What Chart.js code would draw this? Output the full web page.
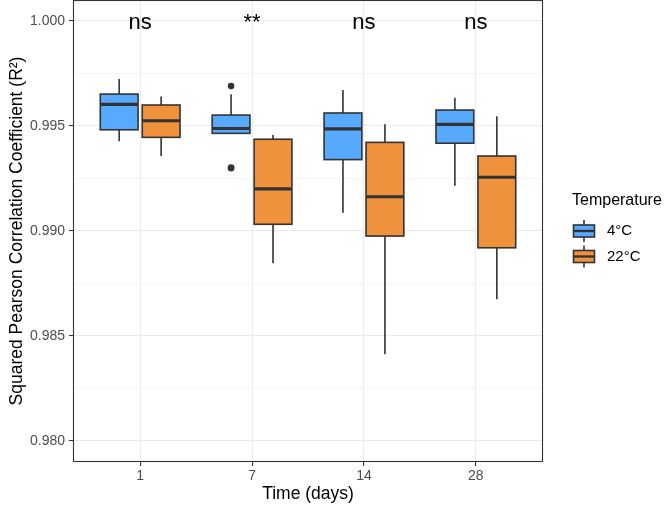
<!DOCTYPE html>
<html lang="en">
<head>
<meta charset="UTF-8" />
<title>R² by storage time and temperature</title>
<script src="https://cdn.jsdelivr.net/npm/chart.js"></script>
<style>
  body { margin: 0; background: #fff; }
  #wrap { width: 669px; height: 505px; }
</style>
</head>
<body>
<div id="wrap"><canvas id="chart" width="669" height="505"></canvas></div>
<script>
  // Categories and groups
  const days = ["1", "7", "14", "28"];
  const groups = ["4°C", "22°C"];
  const groupColors = ["#57AAFF", "#F0923C"];
  const signif = ["ns", "**", "ns", "ns"];
  const signifAt = 1.0;

  // Box stats, 4°C
  const coldLow    = [0.99427, 0.99465, 0.99087, 0.99216];
  const coldQ1     = [0.99482, 0.99465, 0.99340, 0.99418];
  const coldMedian = [0.99603, 0.99488, 0.99486, 0.99508];
  const coldQ3     = [0.99652, 0.99552, 0.99562, 0.99576];
  const coldHigh   = [0.99724, 0.99651, 0.99671, 0.99635];

  // Box stats, 22°C
  const warmLow    = [0.99357, 0.98846, 0.98413, 0.98675];
  const warmQ1     = [0.99446, 0.99032, 0.98976, 0.98920];
  const warmMedian = [0.99525, 0.99201, 0.99163, 0.99256];
  const warmQ3     = [0.99600, 0.99437, 0.99422, 0.99357];
  const warmHigh   = [0.99640, 0.99457, 0.99508, 0.99546];

  // Outliers (day, group index, value)
  const outlierDay   = ["7", "7", "7"];
  const outlierGroup = [0, 0, 0];
  const outlierValue = [0.99690, 0.99302, 0.99299];

  // Axis ticks
  const yMajorTicks = [0.980, 0.985, 0.990, 0.995, 1.000];
  const yMinorTicks = [0.9825, 0.9875, 0.9925, 0.9975];

  const stats = [
    { low: coldLow, q1: coldQ1, med: coldMedian, q3: coldQ3, high: coldHigh },
    { low: warmLow, q1: warmQ1, med: warmMedian, q3: warmQ3, high: warmHigh },
  ];

  const FONT = "'Liberation Sans', Arial, Helvetica, sans-serif";
  const INK = "#333333";
  const DODGE = 0.1875;
  const HALF_BOX = 0.16875;

  function groupX(dayIndex, g) {
    return dayIndex + 1 + (g === 0 ? -DODGE : DODGE);
  }

  function isMajor(v) {
    return yMajorTicks.some((t) => Math.abs(t - v) < 1e-7);
  }

  // draws boxes and whiskers through the chart scales
  const boxPlugin = {
    id: "boxes",
    beforeDatasetsDraw(chart) {
      const { ctx, scales: { x, y } } = chart;
      ctx.save();
      stats.forEach((s, g) => {
        days.forEach((d, i) => {
          const cx = x.getPixelForValue(groupX(i, g));
          const x0 = x.getPixelForValue(groupX(i, g) - HALF_BOX);
          const x1 = x.getPixelForValue(groupX(i, g) + HALF_BOX);
          const yQ1 = y.getPixelForValue(s.q1[i]);
          const yQ3 = y.getPixelForValue(s.q3[i]);
          const yMed = y.getPixelForValue(s.med[i]);
          const yLow = y.getPixelForValue(s.low[i]);
          const yHigh = y.getPixelForValue(s.high[i]);

          ctx.strokeStyle = INK;
          ctx.lineWidth = 1.6;
          ctx.beginPath();
          ctx.moveTo(cx, yHigh);
          ctx.lineTo(cx, yQ3);
          ctx.moveTo(cx, yQ1);
          ctx.lineTo(cx, yLow);
          ctx.stroke();

          ctx.fillStyle = groupColors[g];
          ctx.fillRect(x0, yQ3, x1 - x0, yQ1 - yQ3);
          ctx.strokeRect(x0, yQ3, x1 - x0, yQ1 - yQ3);

          ctx.lineWidth = 3.2;
          ctx.beginPath();
          ctx.moveTo(x0, yMed);
          ctx.lineTo(x1, yMed);
          ctx.stroke();
        });
      });
      ctx.restore();
    },
    afterDraw(chart) {
      const { ctx, chartArea: a, scales: { x, y } } = chart;
      ctx.save();

      // significance labels
      ctx.fillStyle = "#000";
      ctx.font = "22px " + FONT;
      ctx.textAlign = "center";
      ctx.textBaseline = "alphabetic";
      signif.forEach((t, i) => {
        ctx.fillText(t, x.getPixelForValue(i + 1), y.getPixelForValue(signifAt) + 8);
      });

      // panel border
      ctx.strokeStyle = INK;
      ctx.lineWidth = 1.1;
      ctx.strokeRect(a.left + 0.5, a.top + 0.5, a.right - a.left - 1, a.bottom - a.top - 1);

      // legend
      ctx.textAlign = "left";
      ctx.font = "16px " + FONT;
      ctx.fillText("Temperature", 572, 205);
      ctx.font = "15px " + FONT;
      groups.forEach((name, g) => {
        const cy = 231 + g * 25.5;
        const kx = 573.5, kw = 21;
        ctx.lineWidth = 1.6;
        ctx.beginPath();
        ctx.moveTo(kx + kw / 2, cy - 11);
        ctx.lineTo(kx + kw / 2, cy + 11);
        ctx.stroke();
        ctx.fillStyle = groupColors[g];
        ctx.fillRect(kx, cy - 6, kw, 12);
        ctx.strokeRect(kx, cy - 6, kw, 12);
        ctx.lineWidth = 2.4;
        ctx.beginPath();
        ctx.moveTo(kx, cy);
        ctx.lineTo(kx + kw, cy);
        ctx.stroke();
        ctx.fillStyle = "#000";
        ctx.textBaseline = "middle";
        ctx.fillText(name, 607, cy);
      });
      ctx.restore();
    },
  };

  const outlierPoints = outlierValue.map((v, k) => ({
    x: groupX(days.indexOf(outlierDay[k]), outlierGroup[k]),
    y: v,
  }));

  new Chart(document.getElementById("chart"), {
    type: "scatter",
    data: {
      datasets: [
        {
          label: "outliers",
          data: outlierPoints,
          pointRadius: 3.3,
          pointBackgroundColor: INK,
          pointBorderWidth: 0,
        },
      ],
    },
    options: {
      responsive: false,
      animation: false,
      layout: { autoPadding: false, padding: { top: 0, right: 126, left: 0, bottom: 0 } },
      plugins: { legend: { display: false }, tooltip: { enabled: false } },
      scales: {
        x: {
          type: "linear",
          min: 0.4,
          max: 4.6,
          afterFit: (s) => { s.height = 43; s.paddingLeft = 0; s.paddingRight = 0; },
          afterBuildTicks: (s) => { s.ticks = days.map((d, i) => ({ value: i + 1 })); },
          border: { display: false },
          grid: { color: "#EBEBEB", lineWidth: 1.07, tickColor: INK, tickLength: 4, tickWidth: 1.07 },
          ticks: {
            callback: (v) => days[Math.round(v) - 1],
            color: "#4D4D4D",
            font: { family: FONT, size: 14 },
            padding: 2,
            maxRotation: 0,
          },
          title: {
            display: true,
            text: "Time (days)",
            color: "#000",
            font: { family: FONT, size: 17.5 },
            padding: { top: 0, bottom: 0 },
          },
        },
        y: {
          type: "linear",
          min: 0.979,
          max: 1.001,
          afterFit: (s) => { s.width = 73; s.paddingTop = 0; s.paddingBottom = 0; },
          afterBuildTicks: (s) => {
            s.ticks = yMajorTicks.concat(yMinorTicks).sort((p, q) => p - q).map((v) => ({ value: v }));
          },
          border: { display: false },
          grid: {
            color: "#EBEBEB",
            lineWidth: (c) => (isMajor(c.tick.value) ? 1.07 : 0.55),
            tickColor: (c) => (isMajor(c.tick.value) ? INK : "rgba(0,0,0,0)"),
            tickLength: 4,
            tickWidth: 1.07,
          },
          ticks: {
            callback: (v) => (isMajor(v) ? v.toFixed(3) : ""),
            color: "#4D4D4D",
            font: { family: FONT, size: 14 },
            padding: 4,
          },
          title: {
            display: true,
            text: "Squared Pearson Correlation Coefficient (R²)",
            color: "#000",
            font: { family: FONT, size: 17.5 },
            padding: { top: 6.5, bottom: 0 },
          },
        },
      },
    },
    plugins: [boxPlugin],
  });
</script>
</body>
</html>
